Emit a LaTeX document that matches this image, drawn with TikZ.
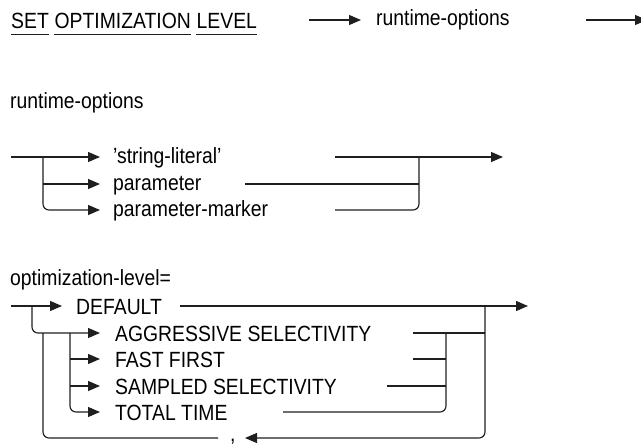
\documentclass[tikz,border=0pt]{standalone}
\usepackage{fontspec}
\setmainfont[FakeStretch=0.88]{Liberation Sans}
\usetikzlibrary{arrows.meta}
\begin{document}
\begin{tikzpicture}[x=1pt,y=-1pt,
  txt/.style={inner sep=0pt, anchor=base west, font=\fontsize{22}{26}\selectfont},
  ln/.style={line width=1.15pt, draw=black!88},
  arr/.style={ln, -{Triangle[length=12pt,width=10pt]}},
  rc/.style={rounded corners=6pt},
  uline/.style={line width=1pt, draw=black!88}]
\useasboundingbox (0,0) rectangle (641,447);
% ---------- row 1 ----------
\node[txt] (set) at (11,28) {SET};
\node[txt] (opt) at ([xshift=5.4pt]set.base east) {OPTIMIZATION};
\node[txt] (lev) at ([xshift=5.4pt]opt.base east) {LEVEL};
\foreach \n in {set,opt,lev}
  \draw[uline] ([yshift=-6pt]\n.base west) -- ([yshift=-6pt]\n.base east);
\coordinate (a1s) at (309,20);
\coordinate (a1e) at (361,20);
\node[txt] (rto) at (376,26) {runtime-options};
\coordinate (a2s) at (586,20);
\coordinate (a2e) at (647,20);
\draw[arr] (a1s) -- (a1e);
\draw[arr] (a2s) -- (a2e);
% ---------- runtime-options ----------
\node[txt] (lab2) at (10,108) {runtime-options};
\coordinate (r0) at (11,157);
\coordinate (rb) at (43,157);
\coordinate (ra1) at (100,157);
\coordinate (ra2) at (100,184);
\coordinate (ra3) at (100,210);
\node[txt] (sl) at (113,163) {'string-literal'};
\node[txt] (pa) at (113,190) {parameter};
\node[txt] (pm) at (113,216) {parameter-marker};
\coordinate (sle) at (335,157);
\coordinate (pae) at (245,184);
\coordinate (pme) at (335,210);
\coordinate (rj) at (419,157);
\coordinate (rout) at (503,157);
\draw[arr] (r0) -- (ra1);
\draw[arr] (rb |- ra2) -- (ra2);
\draw[arr, rc] (rb) |- (ra3);
\draw[arr] (sle) -- (rout);
\draw[ln] (pae) -- (rj |- pae);
\draw[ln, rc] (pme) -| (rj);
% ---------- optimization-level ----------
\node[txt] (lab3) at (10,285) {optimization-level=};
\coordinate (o0) at (11,306);
\coordinate (ob) at (32,306);
\coordinate (oa0) at (62,306);
\node[txt] (def) at (76,314) {DEFAULT};
\coordinate (defe) at (180,306);
\coordinate (oj) at (485,306);
\coordinate (oout) at (528,306);
\coordinate (ia1) at (100,333);
\coordinate (ia2) at (100,359);
\coordinate (ia3) at (100,386);
\coordinate (ia4) at (100,412);
\coordinate (ib) at (70,333);
\coordinate (lb) at (43,333);
\node[txt] (agg) at (115,341) {AGGRESSIVE SELECTIVITY};
\node[txt] (ff) at (115,367) {FAST FIRST};
\node[txt] (ss) at (115,394) {SAMPLED SELECTIVITY};
\node[txt] (tt) at (115,420) {TOTAL TIME};
\coordinate (agge) at (413,333);
\coordinate (ffe) at (413,359);
\coordinate (sse) at (387,386);
\coordinate (tte) at (283,412);
\coordinate (ij) at (446,333);
\coordinate (lbot) at (43,438);
\coordinate (cl) at (218,438);
\node[txt] (comma) at (230,441) {,};
\coordinate (ctip) at (245,438);
\draw[arr] (o0) -- (oa0);
\draw[arr] (defe) -- (oout);
\draw[arr, rc] (ob) |- (ia1);
\draw[arr] (ib |- ia2) -- (ia2);
\draw[arr] (ib |- ia3) -- (ia3);
\draw[arr, rc] (ib) |- (ia4);
\draw[ln] (agge) -- (oj |- agge);
\draw[ln] (ffe) -- (ij |- ffe);
\draw[ln] (sse) -- (ij |- sse);
\draw[ln, rc] (tte) -| (ij);
\draw[ln, rc] (lb) |- (cl);
\draw[arr, rc] (oj) |- (ctip);
\end{tikzpicture}
\end{document}
